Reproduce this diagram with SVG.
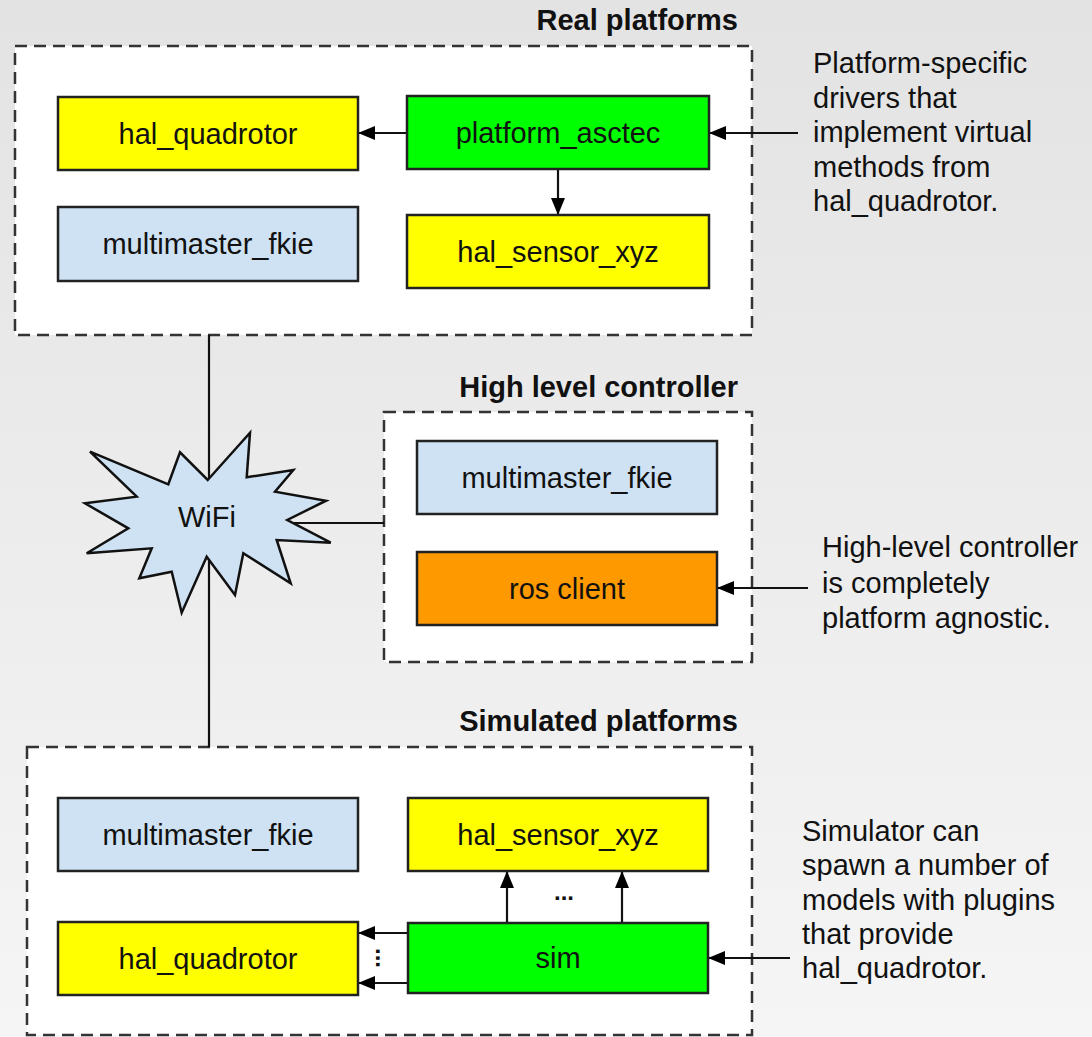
<svg xmlns="http://www.w3.org/2000/svg" width="1092" height="1037" viewBox="0 0 1092 1037">
<defs>
<linearGradient id="bg" x1="0" y1="0" x2="0" y2="1">
<stop offset="0" stop-color="#e3e3e3"/>
<stop offset="1" stop-color="#f5f5f5"/>
</linearGradient>
<marker id="arr" markerUnits="userSpaceOnUse" markerWidth="17" markerHeight="14" refX="17" refY="7" orient="auto">
<path d="M0,0 L17,7 L0,14 z" fill="#000"/>
</marker>
<style>
text{font-family:"Liberation Sans",Arial,sans-serif;fill:#111}
.lbl{font-size:29px;text-anchor:middle}
.title{font-size:29px;font-weight:bold;text-anchor:end}
.note{font-size:29px}
.group{fill:#fff;stroke:#333;stroke-width:2.5;stroke-dasharray:12 7}
.node{stroke:#222;stroke-width:2.5}
.yellow{fill:#ffff00}
.green{fill:#00ff00}
.blue{fill:#cfe2f3}
.orange{fill:#ff9900}
.conn{stroke:#111;stroke-width:2.2;fill:none}
.arrow{stroke:#111;stroke-width:2.2;fill:none;marker-end:url(#arr)}
</style>
</defs>
<rect x="0" y="0" width="1092" height="1037" fill="url(#bg)"/>

<g id="group-real">
<rect class="group" x="15" y="46" width="737" height="289"/>
<text class="title" x="738" y="30">Real platforms</text>
</g>
<g id="group-hlc">
<rect class="group" x="384" y="412" width="368" height="250"/>
<text class="title" x="738" y="397">High level controller</text>
</g>
<g id="group-sim">
<rect class="group" x="27" y="747" width="725" height="288"/>
<text class="title" x="738" y="731">Simulated platforms</text>
</g>

<g id="connectors">
<line class="conn" x1="209" y1="335" x2="209" y2="747"/>
<line class="conn" x1="287" y1="523" x2="384" y2="523"/>
<line class="arrow" x1="407" y1="133" x2="358" y2="133"/>
<line class="arrow" x1="558" y1="169" x2="558" y2="215"/>
<line class="arrow" x1="798" y1="133" x2="709" y2="133"/>
<line class="arrow" x1="808" y1="588" x2="717" y2="588"/>
<line class="arrow" x1="507" y1="923" x2="507" y2="871"/>
<line class="arrow" x1="622" y1="923" x2="622" y2="871"/>
<line class="arrow" x1="408" y1="933" x2="358" y2="933"/>
<line class="arrow" x1="408" y1="983" x2="358" y2="983"/>
<line class="arrow" x1="790" y1="958" x2="708" y2="958"/>
<text x="564" y="900" font-size="24" font-weight="bold" text-anchor="middle">...</text>
<text x="0" y="0" font-size="24" font-weight="bold" text-anchor="middle" transform="translate(376,958) rotate(90)">...</text>
</g>

<g id="wifi">
<path d="M207.7,480 L250,432.7 L246.7,477.3 L293.3,470 L275,491.7 L326,500.7 L287.3,520 L330.7,542.7 L276.7,540 L290.7,583.3 L243.3,553.3 L235,595 L206.7,556.7 L181.7,612.7 L171.7,571.7 L139.3,578.3 L151.7,548.3 L86.7,553.3 L128.3,528.3 L85,503.3 L136.7,496.7 L90,451.7 L168.3,484.3 L180,452.3 Z" fill="#cfe2f3" stroke="#111" stroke-width="2.5" stroke-linejoin="miter"/>
<text class="lbl" x="207" y="527">WiFi</text>
</g>

<g id="real-hal_quadrotor">
<rect class="node yellow" x="58" y="97" width="300" height="73"/>
<text class="lbl" x="208" y="144">hal_quadrotor</text>
</g>
<g id="real-platform_asctec">
<rect class="node green" x="407" y="96" width="302" height="73"/>
<text class="lbl" x="558" y="143">platform_asctec</text>
</g>
<g id="real-multimaster_fkie">
<rect class="node blue" x="58" y="207" width="300" height="74"/>
<text class="lbl" x="208" y="254">multimaster_fkie</text>
</g>
<g id="real-hal_sensor_xyz">
<rect class="node yellow" x="407" y="215" width="302" height="73"/>
<text class="lbl" x="558" y="262">hal_sensor_xyz</text>
</g>

<g id="hlc-multimaster_fkie">
<rect class="node blue" x="417" y="441" width="300" height="73"/>
<text class="lbl" x="567" y="488">multimaster_fkie</text>
</g>
<g id="hlc-ros_client">
<rect class="node orange" x="417" y="552" width="300" height="73"/>
<text class="lbl" x="567" y="599">ros client</text>
</g>

<g id="sim-multimaster_fkie">
<rect class="node blue" x="58" y="798" width="300" height="73"/>
<text class="lbl" x="208" y="845">multimaster_fkie</text>
</g>
<g id="sim-hal_sensor_xyz">
<rect class="node yellow" x="408" y="798" width="300" height="73"/>
<text class="lbl" x="558" y="845">hal_sensor_xyz</text>
</g>
<g id="sim-hal_quadrotor">
<rect class="node yellow" x="58" y="922" width="300" height="73"/>
<text class="lbl" x="208" y="969">hal_quadrotor</text>
</g>
<g id="sim-sim">
<rect class="node green" x="408" y="923" width="300" height="70"/>
<text class="lbl" x="558" y="968">sim</text>
</g>

<g id="note-real">
<text class="note" x="813" y="73"><tspan x="813">Platform-specific</tspan><tspan x="813" dy="34.5">drivers that</tspan><tspan x="813" dy="34.5">implement virtual</tspan><tspan x="813" dy="34.5">methods from</tspan><tspan x="813" dy="34.5">hal_quadrotor.</tspan></text>
</g>
<g id="note-hlc">
<text class="note" x="822" y="557"><tspan x="822">High-level controller</tspan><tspan x="822" dy="35.5">is completely</tspan><tspan x="822" dy="35.5">platform agnostic.</tspan></text>
</g>
<g id="note-sim">
<text class="note" x="802" y="841"><tspan x="802">Simulator can</tspan><tspan x="802" dy="34.3">spawn a number of</tspan><tspan x="802" dy="34.3">models with plugins</tspan><tspan x="802" dy="34.3">that provide</tspan><tspan x="802" dy="34.3">hal_quadrotor.</tspan></text>
</g>
</svg>
